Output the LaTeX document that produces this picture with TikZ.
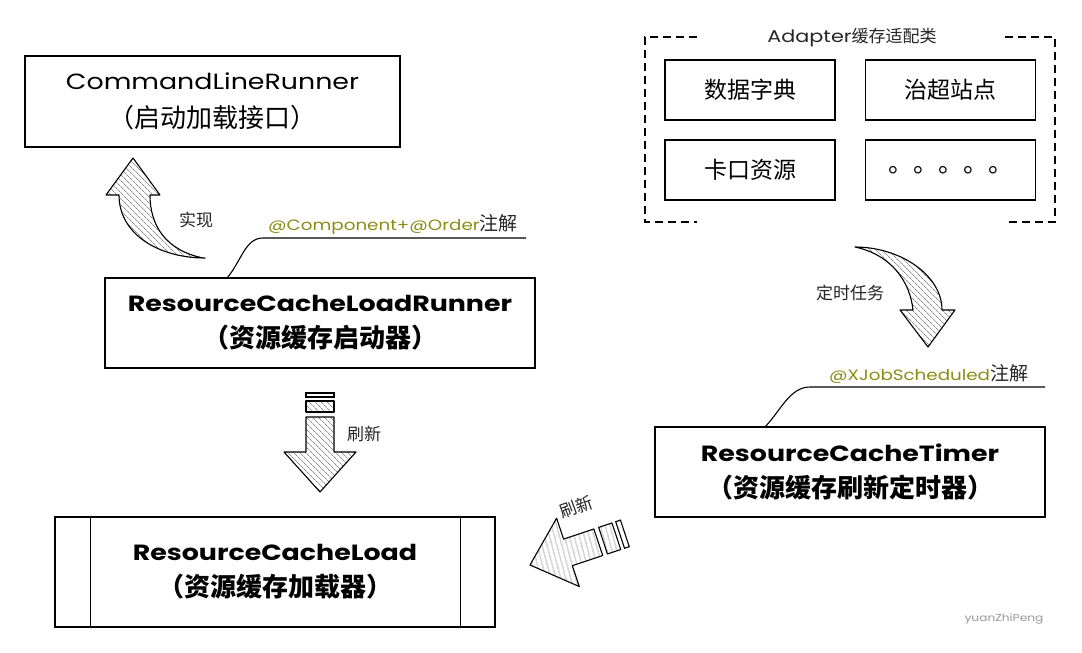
\documentclass[tikz,border=0pt]{standalone}
\usepackage{fontspec}
\setmainfont{Poppins}[FakeStretch=1.22]
\newfontfamily\cjk{Noto Sans CJK SC}
\usetikzlibrary{patterns.meta,calc}
\definecolor{olivetxt}{HTML}{8C8C14}
\begin{document}
\begin{tikzpicture}[x=1pt,y=-1pt,
  box/.style={draw=black,line width=1.3pt,inner sep=0pt,align=center},
  reg/.style={font=\fontsize{22}{38}\selectfont},
  bld/.style={font=\bfseries\fontsize{22}{36}\selectfont},
  subbox/.style={draw=black,line width=1.6pt,minimum width=170pt,minimum height=60pt,inner sep=0pt,font=\cjk\fontsize{23}{23}\selectfont},
  hatch/.style={draw=black,line width=1.1pt,line join=round,pattern={Lines[angle=-45,distance=4pt,line width=0.7pt]},pattern color=black!45},
  hatchb/.style={hatch,pattern={Lines[angle=-75,distance=4pt,line width=0.7pt]}},
  lbl/.style={font=\cjk\fontsize{17}{17}\selectfont,text=black!85,inner sep=0pt},
  annotext/.style={font=\fontsize{15}{15}\selectfont,text=olivetxt,inner sep=0pt},
  leader/.style={line width=1.1pt},
  frame/.style={line width=2pt,dash pattern=on 8pt off 5pt}
]
\useasboundingbox[fill=white] (0,0) rectangle (1082,653);

% ---- main boxes ----
\node[box,reg,minimum width=375pt,minimum height=91pt] (clr) at (212.5,101.5)
  {CommandLineRunner\\{\cjk\fontsize{26}{38}\selectfont （启动加载接口）}};
\node[box,bld,minimum width=430pt,minimum height=90pt] (rclr) at (320,323)
  {ResourceCacheLoadRunner\\{\cjk\bfseries\fontsize{26}{36}\selectfont （资源缓存启动器）}};
\node[box,bld,minimum width=440pt,minimum height=110pt] (rcl) at (275,572)
  {ResourceCacheLoad\\{\cjk\bfseries\fontsize{26}{36}\selectfont （资源缓存加载器）}};
\draw[line width=1.3pt] ($(rcl.north west)+(36,0)$) -- ($(rcl.south west)+(36,0)$);
\draw[line width=1.3pt] ($(rcl.north east)+(-35,0)$) -- ($(rcl.south east)+(-35,0)$);
\node[box,bld,minimum width=390pt,minimum height=90pt] (rct) at (850,472)
  {ResourceCacheTimer\\{\cjk\bfseries\fontsize{26}{36}\selectfont （资源缓存刷新定时器）}};

% ---- adapter group ----
\node[subbox] (dict) at (750,90) {数据字典};
\node[subbox] (site) at (950.5,90) {治超站点};
\node[subbox] (gate) at (750,170) {卡口资源};
\node[subbox,font=\cjk\fontsize{25}{25}\selectfont] (more) at (950.5,170) {。。。。。};
\node[font=\fontsize{17}{17}\selectfont,text=black!85,inner sep=0pt] (adtitle) at (852,38) {Adapter{\cjk 缓存适配类}};
\draw[frame] (697,37) -- (645,37) -- (645,222) -- (697,222);
\draw[frame] (1005,37) -- (1055,37) -- (1055,222) -- (1005,222);

% ---- curved arrow: implements ----
\path[hatch] (203,258) .. controls (165,250) and (150,225) .. (150,195) -- (160,195) -- (133,158)
  -- (106,195) -- (119,195) .. controls (119,235) and (160,258) .. (205,258) -- cycle;
\node[lbl] (impl) at (196,220) {实现};

% ---- curved arrow: scheduled task ----
\path[hatch] (855,247) .. controls (900,247) and (942,275) .. (942,310) -- (955,310) -- (928,347)
  -- (900,310) -- (913,310) .. controls (910,282) and (892,255) .. cycle;
\node[lbl] (task) at (850,293) {定时任务};

% ---- annotations ----
\node[annotext,anchor=base west] (compnote) at (268,230) {@Component+@Order{\cjk\fontsize{19}{19}\selectfont\color{black!85}注解}};
\coordinate (l1s) at (227,278);
\draw[leader] (l1s) .. controls (241,262) and (245,238) .. (263,238) -- (526,238);
\node[annotext,anchor=base west] (jobnote) at (829,380) {@XJobScheduled{\cjk\fontsize{19}{19}\selectfont\color{black!85}注解}};
\coordinate (l2s) at (765,427);
\draw[leader] (l2s) .. controls (781,410) and (790,387) .. (810,387) -- (1045,387);

% ---- straight arrow: refresh (down) ----
\begin{scope}[shift={(320,492)}]
  \path[hatch] (-14,-75) -- (14,-75) -- (14,-40) -- (36,-40) -- (0,0) -- (-36,-40) -- (-14,-40) -- cycle;
  \path[hatch] (-14,-91) rectangle (14,-80);
  \draw[line width=1.1pt] (-14,-99) rectangle (14,-95);
\end{scope}
\node[lbl] (ref1) at (364,434) {刷新};

% ---- straight arrow: refresh (diagonal) ----
\begin{scope}[shift={(530,565)},rotate=-71.6]
  \path[hatchb] (-14,-72) -- (14,-72) -- (14,-40) -- (36,-40) -- (0,0) -- (-36,-40) -- (-14,-40) -- cycle;
  \path[hatchb] (-14,-91) rectangle (14,-77);
  \draw[line width=1.1pt] (-14,-100) rectangle (14,-95);
\end{scope}
\node[lbl,rotate=20] (ref2) at (576,507) {刷新};

% ---- watermark ----
\node[font=\fontsize{10}{10}\selectfont,text=black!40] (wm) at (1004,619) {yuanZhiPeng};
\end{tikzpicture}
\end{document}
